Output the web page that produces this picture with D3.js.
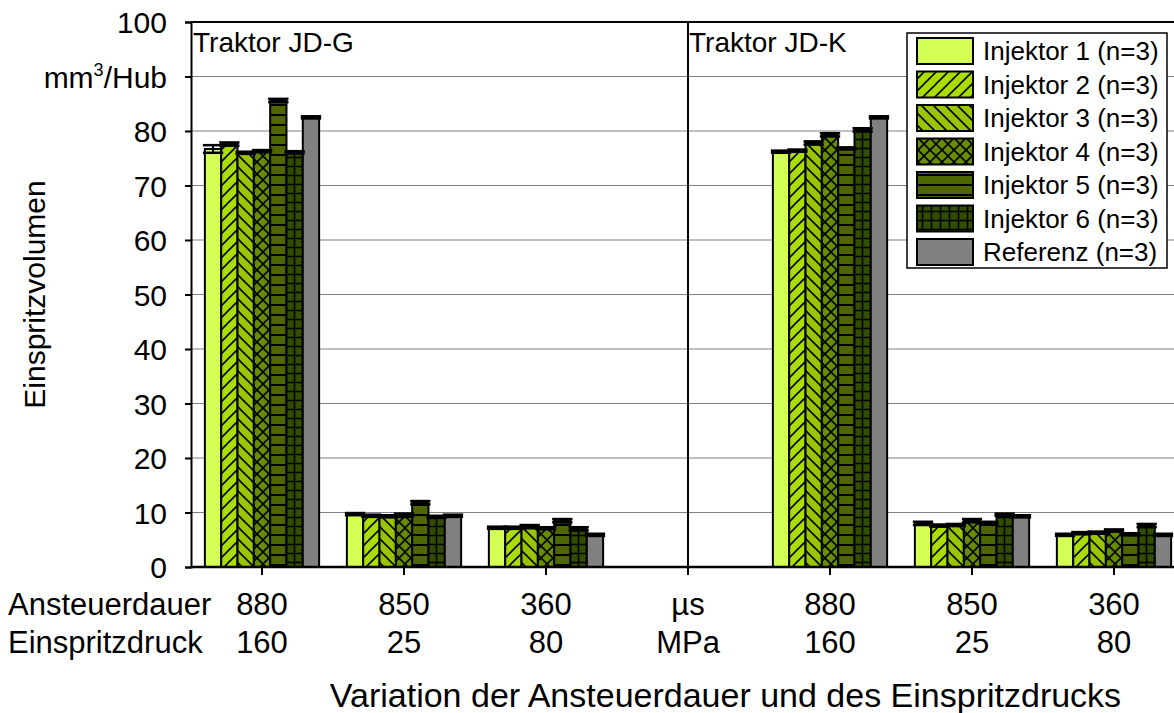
<!DOCTYPE html>
<html>
<head>
<meta charset="utf-8">
<script src="https://cdn.jsdelivr.net/npm/d3@7"></script>
<style>
  html, body { margin: 0; padding: 0; background: #fff; }
  svg { display: block; font-family: "Liberation Sans", Arial, sans-serif; }
  svg text { font-family: "Liberation Sans", Arial, sans-serif; fill: #000; }
</style>
</head>
<body>
<svg id="chart" width="1174" height="713"></svg>
<script>
// Injection volume per injector for two tractors at three operating points
const dauerLabels = ["880", "850", "360", "µs", "880", "850", "360"];
const druckLabels = ["160", "25", "80", "MPa", "160", "25", "80"];
const seriesNames = ["Injektor 1 (n=3)", "Injektor 2 (n=3)", "Injektor 3 (n=3)",
                     "Injektor 4 (n=3)", "Injektor 5 (n=3)", "Injektor 6 (n=3)", "Referenz (n=3)"];
const yTicks = [0, 10, 20, 30, 40, 50, 60, 70, 80, 90, 100];
const yTickLabels = ["0", "10", "20", "30", "40", "50", "60", "70", "80", "mm³/Hub", "100"];

const injektor1 = [76.7, 9.7, 7.2, null, 76.2, 8.0, 5.9];
const injektor2 = [77.6, 9.4, 7.2, null, 76.4, 7.6, 6.2];
const injektor3 = [76.0, 9.3, 7.4, null, 77.8, 7.7, 6.3];
const injektor4 = [76.3, 9.5, 7.1, null, 79.3, 8.5, 6.7];
const injektor5 = [85.6, 11.8, 8.5, null, 76.8, 8.1, 6.0];
const injektor6 = [76.1, 9.2, 7.0, null, 80.2, 9.6, 7.6];
const referenz  = [82.5, 9.4, 5.9, null, 82.5, 9.3, 5.9];

const err1 = [0.7, 0.2, 0.2, null, 0.2, 0.3, 0.2];
const err2 = [0.3, 0.2, 0.2, null, 0.2, 0.2, 0.2];
const err3 = [0.2, 0.2, 0.3, null, 0.3, 0.2, 0.2];
const err4 = [0.2, 0.3, 0.2, null, 0.3, 0.3, 0.2];
const err5 = [0.3, 0.3, 0.3, null, 0.2, 0.2, 0.2];
const err6 = [0.2, 0.2, 0.3, null, 0.3, 0.2, 0.3];
const errR = [0.2, 0.2, 0.2, null, 0.2, 0.2, 0.2];

const seriesValues = [injektor1, injektor2, injektor3, injektor4, injektor5, injektor6, referenz];
const seriesErrors = [err1, err2, err3, err4, err5, err6, errR];
const fills = ["#d4ff55", "#aadd00", "#99c400", "#668c00", "#4d6600", "#334d00", "#808080"];
const hatches = ["none", "fwd", "back", "cross", "horiz", "grid", "none"];

const svg = d3.select("#chart");
const W = 1174, H = 713;
const plot = { left: 191, right: 1185, top: 22, bottom: 567 };

const x0 = d3.scaleBand().domain(d3.range(dauerLabels.length))
  .range([plot.left, plot.right]).padding(0);
const x1 = d3.scaleBand().domain(d3.range(seriesNames.length))
  .range([0, x0.bandwidth()]).paddingOuter(0.85).paddingInner(0);
const y = d3.scaleLinear().domain([0, 100]).range([plot.bottom, plot.top]);

// hatch patterns
const defs = svg.append("defs");
function makePattern(id, color, kind) {
  const s = 12;
  const p = defs.append("pattern").attr("id", id).attr("patternUnits", "userSpaceOnUse");
  if (kind === "horiz") {
    p.attr("width", 10).attr("height", 10);
    p.append("rect").attr("width", 10).attr("height", 10).attr("fill", color);
    p.append("line").attr("x1", 0).attr("x2", 10).attr("y1", 5).attr("y2", 5)
      .attr("stroke", "#000").attr("stroke-width", 2);
    return;
  }
  if (kind === "grid") {
    p.attr("width", 9).attr("height", 9);
    p.append("rect").attr("width", 9).attr("height", 9).attr("fill", color);
    p.append("line").attr("x1", 0).attr("x2", 9).attr("y1", 4.5).attr("y2", 4.5)
      .attr("stroke", "#000").attr("stroke-width", 1.6);
    p.append("line").attr("x1", 4.5).attr("x2", 4.5).attr("y1", 0).attr("y2", 9)
      .attr("stroke", "#000").attr("stroke-width", 1.6);
    return;
  }
  p.attr("width", s).attr("height", s);
  p.append("rect").attr("width", s).attr("height", s).attr("fill", color);
  const fwd = () => {
    p.append("path").attr("d", `M0,${s} L${s},0 M${-s / 2},${s / 2} L${s / 2},${-s / 2} M${s / 2},${s * 1.5} L${s * 1.5},${s / 2}`)
      .attr("stroke", "#000").attr("stroke-width", 1.6).attr("fill", "none");
  };
  const back = () => {
    p.append("path").attr("d", `M0,0 L${s},${s} M${s / 2},${-s / 2} L${s * 1.5},${s / 2} M${-s / 2},${s / 2} L${s / 2},${s * 1.5}`)
      .attr("stroke", "#000").attr("stroke-width", 1.6).attr("fill", "none");
  };
  if (kind === "fwd") fwd();
  if (kind === "back") back();
  if (kind === "cross") { fwd(); back(); }
}
const fillFor = seriesNames.map((n, i) => {
  if (hatches[i] === "none") return fills[i];
  makePattern("hatch" + i, fills[i], hatches[i]);
  return `url(#hatch${i})`;
});

// gridlines
svg.append("g").selectAll("line").data(yTicks.filter(t => t > 0 && t < 100)).join("line")
  .attr("x1", plot.left).attr("x2", W).attr("y1", d => y(d)).attr("y2", d => y(d))
  .attr("stroke", "#808080").attr("stroke-width", 1.2);
// top frame
svg.append("line").attr("x1", plot.left).attr("x2", W).attr("y1", y(100)).attr("y2", y(100))
  .attr("stroke", "#000").attr("stroke-width", 2);

// separator between the two tractors
svg.append("line").attr("x1", x0(3) + x0.bandwidth() / 2).attr("x2", x0(3) + x0.bandwidth() / 2)
  .attr("y1", y(100)).attr("y2", y(0)).attr("stroke", "#000").attr("stroke-width", 2);

// bars
const groups = svg.append("g").selectAll("g").data(d3.range(dauerLabels.length)).join("g")
  .attr("transform", c => `translate(${x0(c)},0)`);
groups.each(function (c) {
  const g = d3.select(this);
  seriesValues.forEach((vals, s) => {
    const v = vals[c];
    if (v == null) return;
    g.append("rect")
      .attr("x", x1(s)).attr("width", x1.bandwidth())
      .attr("y", y(v)).attr("height", y(0) - y(v))
      .attr("fill", fillFor[s]).attr("stroke", "#000").attr("stroke-width", 2);
  });
  // error bars
  seriesValues.forEach((vals, s) => {
    const v = vals[c];
    if (v == null) return;
    const e = seriesErrors[s][c];
    const cx = x1(s) + x1.bandwidth() / 2;
    const hw = x1.bandwidth() / 2 + 2;
    g.append("line").attr("x1", cx).attr("x2", cx).attr("y1", y(v + e)).attr("y2", y(v - e))
      .attr("stroke", "#000").attr("stroke-width", 2);
    [v + e, v - e].forEach(val => {
      g.append("line").attr("x1", cx - hw).attr("x2", cx + hw).attr("y1", y(val)).attr("y2", y(val))
        .attr("stroke", "#000").attr("stroke-width", 2.5);
    });
  });
});

// y axis
const yAxis = d3.axisLeft(y).tickValues(yTicks).tickSize(6).tickPadding(18)
  .tickFormat((d, i) => yTickLabels[i]);
const yG = svg.append("g").attr("transform", `translate(${plot.left},0)`).call(yAxis);
yG.attr("font-family", null).attr("font-size", null);
yG.select(".domain").attr("stroke-width", 2);
yG.selectAll(".tick line").attr("stroke-width", 2);
yG.selectAll(".tick text").attr("font-size", 30).attr("dy", "0.36em");
// superscript for mm³
yG.selectAll(".tick text").filter((d) => d === 90).each(function () {
  const t = d3.select(this);
  t.text(null);
  t.append("tspan").text("mm");
  t.append("tspan").text("3").attr("font-size", 18).attr("dy", -12);
  t.append("tspan").text("/Hub").attr("dy", 12);
});

// x axis
const xAxis = d3.axisBottom(x0).tickSize(8).tickFormat(() => "");
const xG = svg.append("g").attr("transform", `translate(0,${plot.bottom})`).call(xAxis);
xG.select(".domain").attr("d", `M${plot.left},0H${W}`).attr("stroke-width", 2.5);
xG.selectAll(".tick line").attr("stroke-width", 2);

const labelFont = 31;
svg.append("g").selectAll("text").data(dauerLabels).join("text")
  .attr("x", (d, i) => x0(i) + x0.bandwidth() / 2).attr("y", 615)
  .attr("text-anchor", "middle").attr("font-size", labelFont).text(d => d);
svg.append("g").selectAll("text").data(druckLabels).join("text")
  .attr("x", (d, i) => x0(i) + x0.bandwidth() / 2).attr("y", 653)
  .attr("text-anchor", "middle").attr("font-size", labelFont).text(d => d);
svg.append("text").attr("x", 8).attr("y", 615).attr("font-size", labelFont).text("Ansteuerdauer");
svg.append("text").attr("x", 8).attr("y", 653).attr("font-size", labelFont).text("Einspritzdruck");

// axis titles
svg.append("text").attr("x", (313 + 1138) / 2).attr("y", 707).attr("text-anchor", "middle")
  .attr("font-size", 34).text("Variation der Ansteuerdauer und des Einspritzdrucks");
svg.append("text").attr("transform", `translate(45,${(plot.top + plot.bottom) / 2}) rotate(-90)`)
  .attr("text-anchor", "middle").attr("font-size", 30).text("Einspritzvolumen");

// tractor captions
svg.append("text").attr("x", plot.left + 2).attr("y", 52).attr("font-size", 28).text("Traktor JD-G");
svg.append("text").attr("x", x0(3) + x0.bandwidth() / 2 + 1).attr("y", 52).attr("font-size", 28).text("Traktor JD-K");

// legend
const lg = svg.append("g");
lg.append("rect").attr("x", 907).attr("y", 33).attr("width", 260).attr("height", 235)
  .attr("fill", "#fff").attr("stroke", "#000").attr("stroke-width", 1.5);
seriesNames.forEach((name, i) => {
  const top = 38 + i * 33.5;
  lg.append("rect").attr("x", 917).attr("y", top).attr("width", 56).attr("height", 26)
    .attr("fill", fillFor[i]).attr("stroke", "#000").attr("stroke-width", 2);
  lg.append("text").attr("x", 983).attr("y", top + 22).attr("font-size", 26).text(name);
});
</script>
</body>
</html>
